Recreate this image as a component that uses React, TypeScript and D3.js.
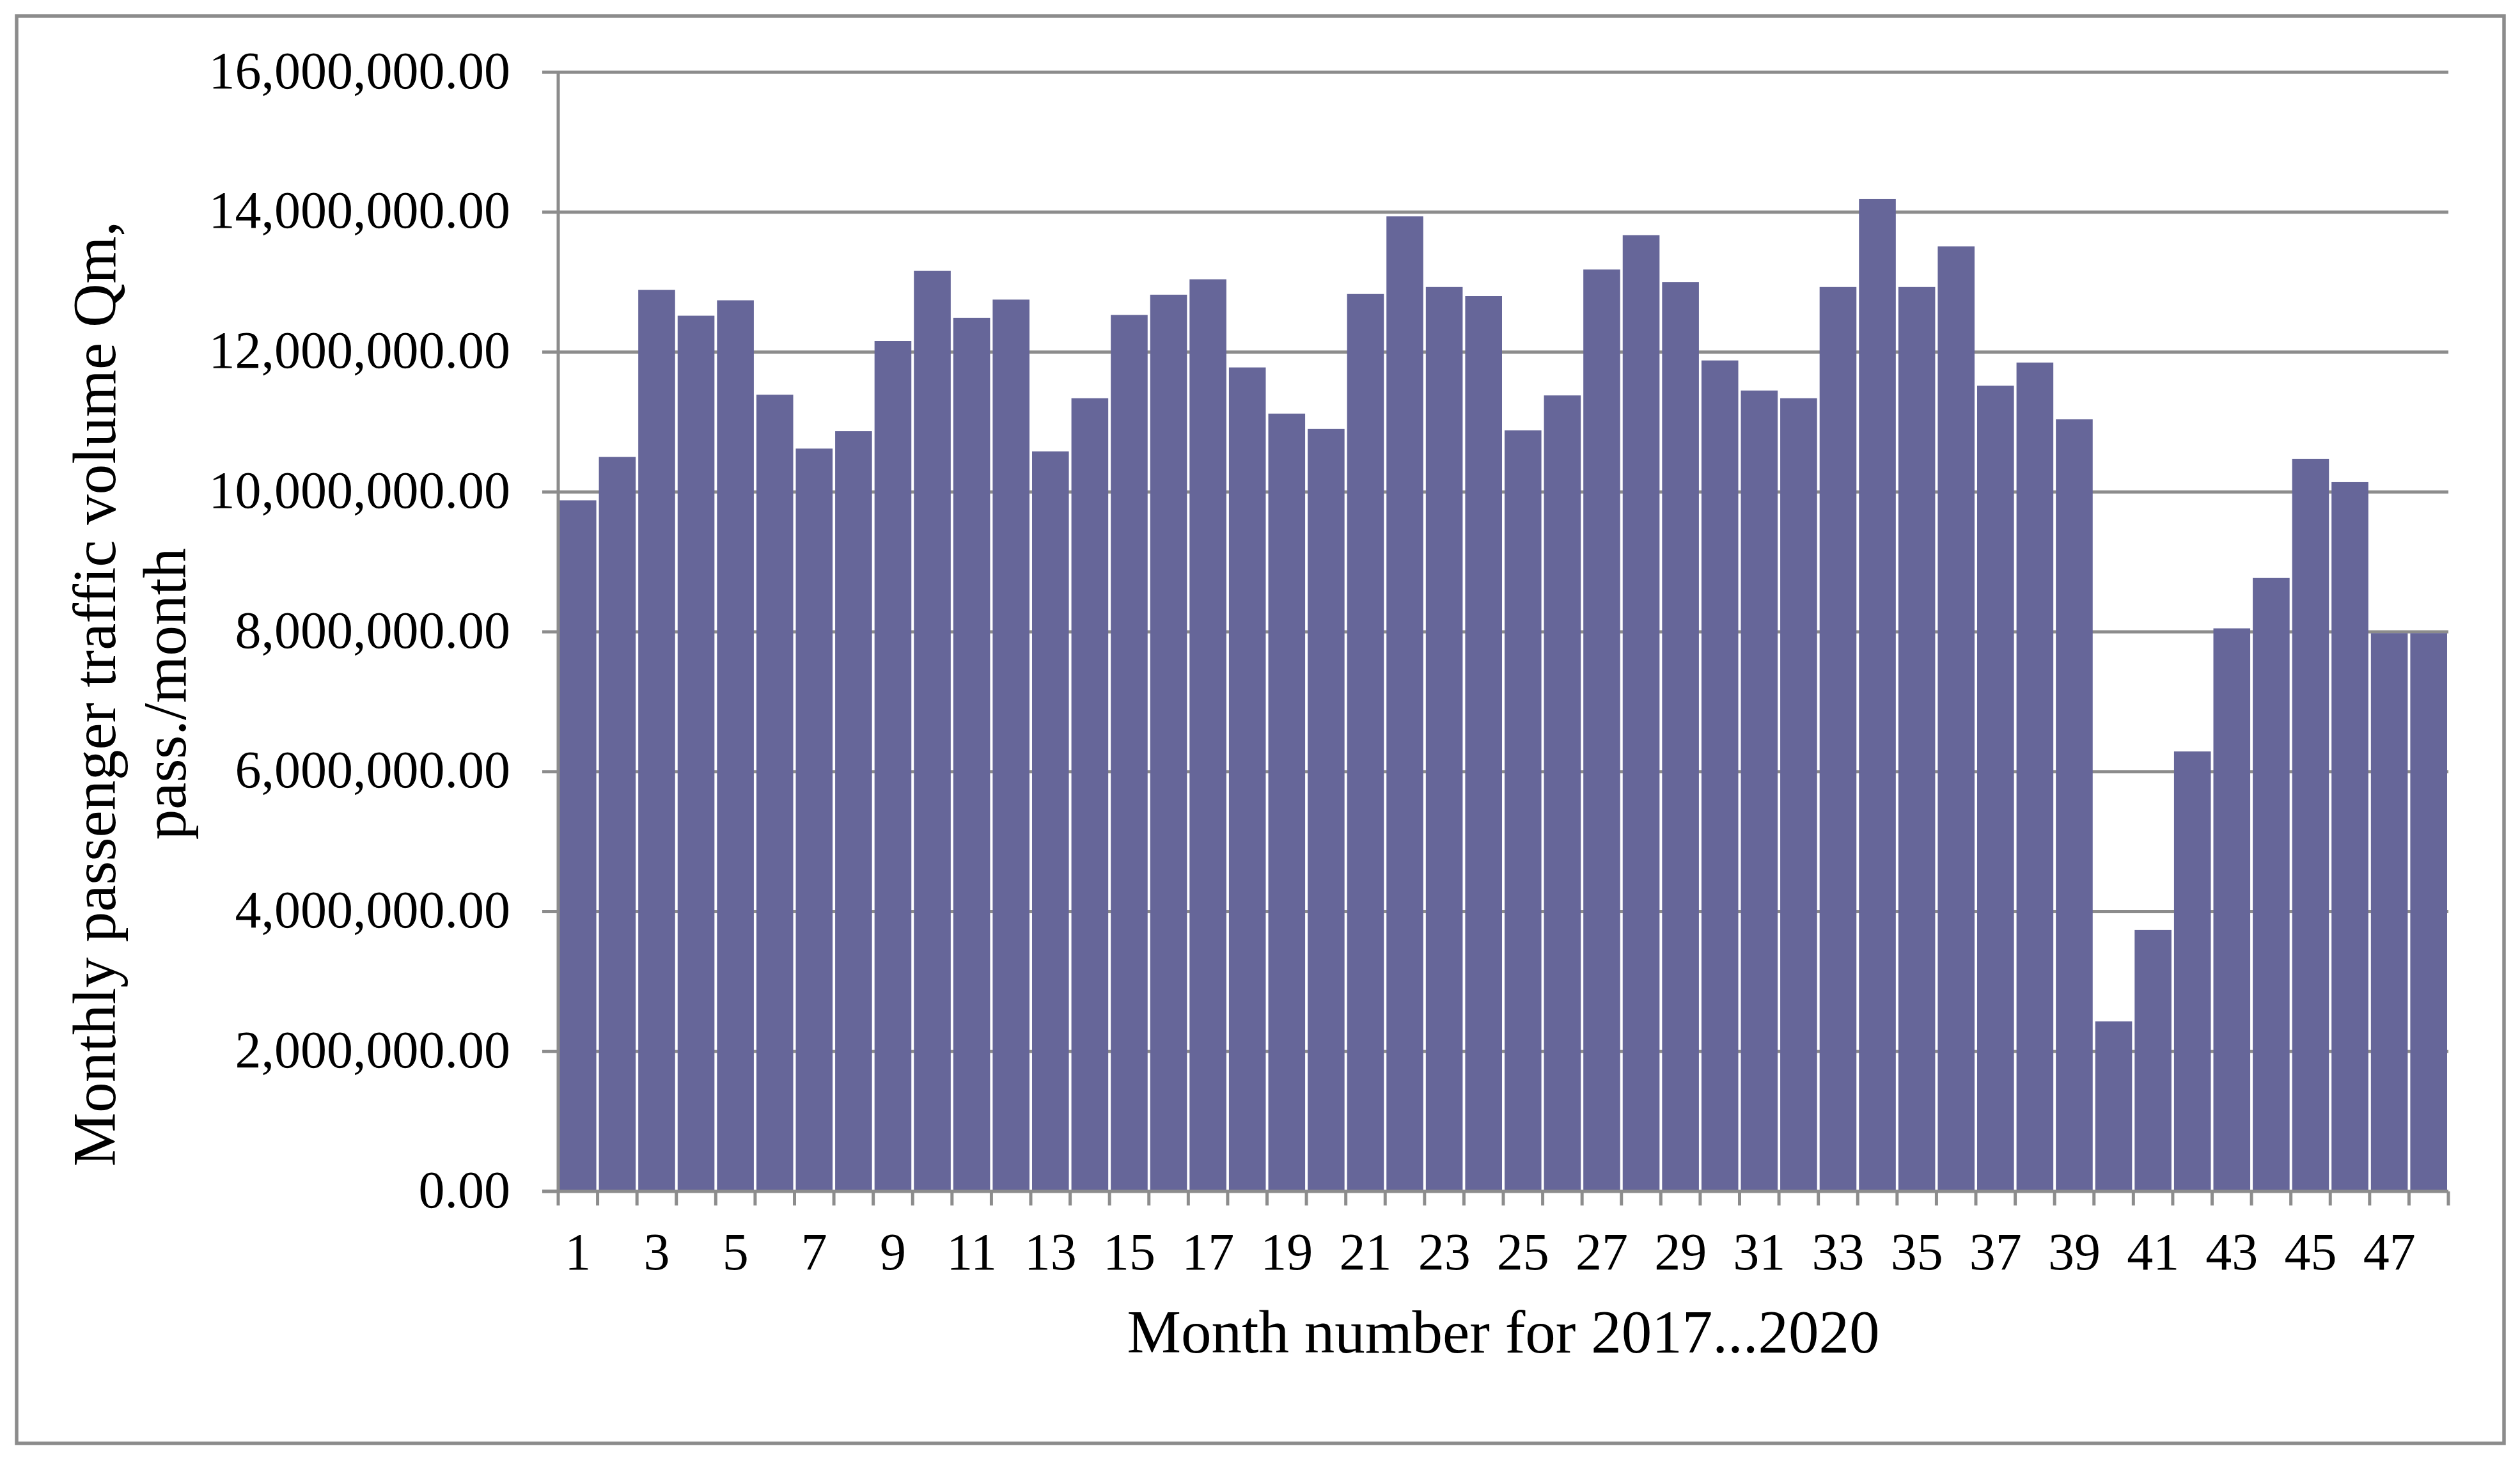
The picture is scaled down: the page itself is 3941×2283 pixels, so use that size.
import React from "react";
import * as d3 from "d3";

const months: number[] = Array.from({ length: 48 }, (_, i) => i + 1);
const traffic: number[] = [
  9.88e6, 10.5e6, 12.89e6, 12.52e6, 12.74e6, 11.39e6, 10.62e6, 10.87e6, 12.16e6, 13.16e6, 12.49e6, 12.75e6,
  10.58e6, 11.34e6, 12.53e6, 12.82e6, 13.04e6, 11.78e6, 11.12e6, 10.9e6, 12.83e6, 13.94e6, 12.93e6, 12.8e6,
  10.88e6, 11.38e6, 13.18e6, 13.67e6, 13.0e6, 11.88e6, 11.45e6, 11.34e6, 12.93e6, 14.19e6, 12.93e6, 13.51e6,
  11.52e6, 11.85e6, 11.04e6, 2.43e6, 3.74e6, 6.29e6, 8.05e6, 8.77e6, 10.47e6, 10.14e6, 7.98e6, 7.98e6,
];
const yTicks: number[] = [0, 2e6, 4e6, 6e6, 8e6, 10e6, 12e6, 14e6, 16e6];
const xLabels: number[] = months.filter((m) => m % 2 === 1);
const yTitleLines: string[] = ["Monthly passenger traffic volume Qm,", "pass./month"];
const xTitle = "Month number for 2017...2020";

const W = 3941;
const H = 2283;
const left = 873;
const right = 3829;
const top = 113;
const bottom = 1863;
const gray = "#8c8c8c";
const barColor = "#666699";
const font = "'Liberation Serif', 'Times New Roman', serif";

export default function App() {
  const x = d3.scaleBand<number>().domain(months).range([left, right]).padding(0);
  const y = d3.scaleLinear().domain([0, 16e6]).range([bottom, top]);
  const fmt = d3.format(",.2f");
  const bw = x.bandwidth();
  const boundaries = d3.range(0, months.length + 1).map((i) => left + i * bw);

  return (
    <svg
      width={W}
      height={H}
      style={{ position: "absolute", left: 0, top: 0, background: "#fff" }}
      fontFamily={font}
    >
      <rect x={0} y={0} width={W} height={H} fill="#fff" />
      <rect x={26} y={25} width={3916 - 26} height={2257 - 25} fill="none" stroke={gray} strokeWidth={5.5} />

      {/* gridlines */}
      {yTicks.filter((t) => t > 0).map((t) => (
        <line key={"g" + t} x1={left} x2={right} y1={y(t)} y2={y(t)} stroke={gray} strokeWidth={5} />
      ))}

      {/* bars */}
      {traffic.map((v, i) => (
        <rect
          key={"b" + i}
          x={(x(months[i]) as number) + 2}
          y={y(v)}
          width={bw - 4}
          height={y(0) - y(v)}
          fill={barColor}
        />
      ))}

      {/* y axis */}
      <line x1={left} x2={left} y1={top} y2={bottom} stroke={gray} strokeWidth={5} />
      {yTicks.map((t) => (
        <g key={"yt" + t}>
          <line x1={left - 25} x2={left} y1={y(t)} y2={y(t)} stroke={gray} strokeWidth={5} />
          <text x={798} y={y(t)} dy="0.3em" textAnchor="end" fontSize={82} fill="#000">
            {fmt(t)}
          </text>
        </g>
      ))}

      {/* x axis */}
      <line x1={left - 25} x2={right} y1={bottom} y2={bottom} stroke={gray} strokeWidth={5} />
      {boundaries.map((bx, i) => (
        <line key={"xt" + i} x1={bx} x2={bx} y1={bottom} y2={bottom + 22} stroke={gray} strokeWidth={5} />
      ))}
      {xLabels.map((m) => (
        <text key={"xl" + m} x={(x(m) as number) + bw / 2} y={1985} textAnchor="middle" fontSize={82} fill="#000">
          {m}
        </text>
      ))}

      {/* titles */}
      <text x={(left + right) / 2} y={2115} textAnchor="middle" fontSize={95} fill="#000">
        {xTitle}
      </text>
      {yTitleLines.map((line, i) => (
        <text
          key={"yt" + i}
          transform={`translate(${180 + i * 110},1085) rotate(-90)`}
          textAnchor="middle"
          fontSize={95}
          fill="#000"
        >
          {line}
        </text>
      ))}
    </svg>
  );
}
